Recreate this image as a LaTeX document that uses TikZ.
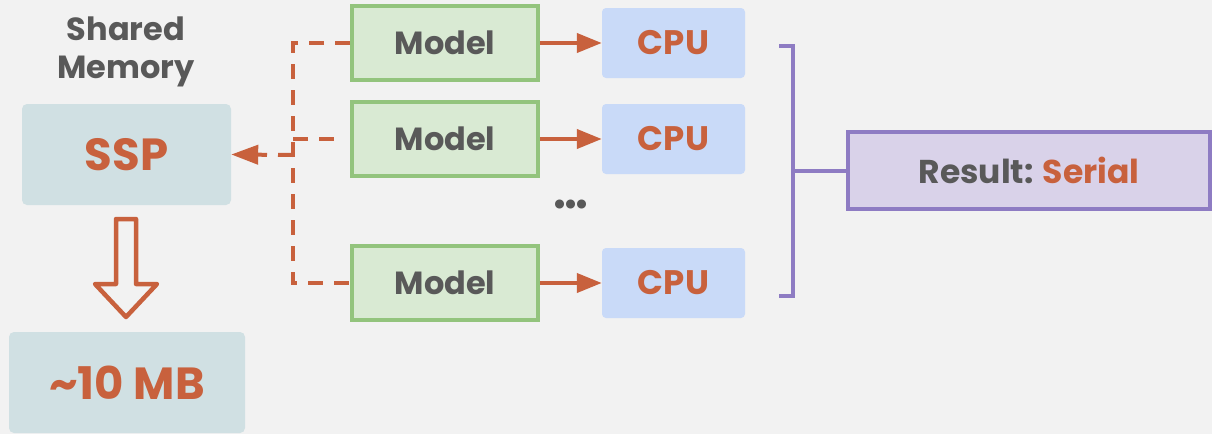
\documentclass[tikz,border=0pt]{standalone}
\usepackage{fontspec}
\setmainfont{Poppins}[BoldFont={* Bold}]
\usetikzlibrary{arrows.meta}
\definecolor{bg}{HTML}{F2F2F2}
\definecolor{txtgray}{HTML}{595959}
\definecolor{org}{HTML}{C8613D}
\definecolor{memfill}{HTML}{D0E0E3}
\definecolor{modfill}{HTML}{D9EAD3}
\definecolor{moddraw}{HTML}{93C47D}
\definecolor{cpufill}{HTML}{C9DAF8}
\definecolor{resfill}{HTML}{D9D2E9}
\definecolor{resdraw}{HTML}{8E7CC3}
\begin{document}
\begin{tikzpicture}[x=1pt,y=-1pt,
  membox/.style={fill=memfill, rounded corners=5pt, inner sep=0pt, font=\bfseries\fontsize{45}{50}\selectfont, text=org},
  modelbox/.style={fill=modfill, draw=moddraw, line width=4pt, minimum width=186pt, minimum height=74pt, inner sep=0pt, font=\bfseries\fontsize{32}{36}\selectfont, text=txtgray},
  cpubox/.style={fill=cpufill, rounded corners=4pt, minimum width=143pt, minimum height=70pt, inner sep=0pt, font=\bfseries\fontsize{34}{38}\selectfont, text=org},
  flow/.style={draw=org, line width=4pt, -{Triangle[length=25pt,width=19pt]}},
  dashflow/.style={draw=org, line width=4pt, dash pattern=on 15pt off 11pt},
  bracket/.style={draw=resdraw, line width=4pt}
]
\fill[bg] (0,0) rectangle (1212,434);
\useasboundingbox (0,0) rectangle (1212,434);

\node[font=\bfseries\fontsize{32}{38}\selectfont, text=txtgray, align=center] (title) at (126,52) {Shared\\Memory};
\node[membox, minimum width=209pt, minimum height=101pt] (ssp) at (126.5,154.5) {SSP};
\node[membox, minimum width=236pt, minimum height=101pt] (mb) at (127,382.5) {\textasciitilde 10 MB};

% hollow down arrow
\draw[org, line width=4.5pt, line join=round]
  (116,219) -- (136,219) -- (136,284) -- (157,284) -- (126,317) -- (95,284) -- (116,284) -- cycle;

\node[modelbox] (m1) at (445,43) {Model};
\node[modelbox] (m2) at (445,139) {Model};
\node[modelbox] (m3) at (445,283) {Model};

\node[cpubox] (c1) at (673.5,43) {CPU};
\node[cpubox] (c2) at (673.5,139) {CPU};
\node[cpubox] (c3) at (673.5,283) {CPU};

\node[font=\bfseries\fontsize{30}{34}\selectfont, text=txtgray, inner sep=0pt] (dots) at (571,207) {•\kern-4pt•\kern-4pt•};

\draw[flow] (m1) -- (c1);
\draw[flow] (m2) -- (c2);
\draw[flow] (m3) -- (c3);

\coordinate (bus) at (293,155);
\draw[dashflow] (m1.west) -- (m1.west -| bus) |- (m3.west);
\draw[dashflow] (m2.west -| bus) -- ([xshift=-8pt]m2.west);
\draw[dashflow, -{Triangle[length=27pt,width=19pt]}] (bus) -- (ssp.east);

\node[fill=resfill, draw=resdraw, line width=4pt, minimum width=362pt, minimum height=77pt, inner sep=0pt, font=\bfseries\fontsize{33}{36}\selectfont, text=txtgray] (res) at (1029,170.5) {Result: \textcolor{org}{Serial}};

\coordinate (btop) at (793,46);
\coordinate (bbot) at (793,296);
\draw[bracket] ([xshift=-14pt]btop) -- (btop) -- (bbot) -- ([xshift=-14pt]bbot);
\draw[bracket] (res.west -| btop) -- (res.west);
\end{tikzpicture}
\end{document}
